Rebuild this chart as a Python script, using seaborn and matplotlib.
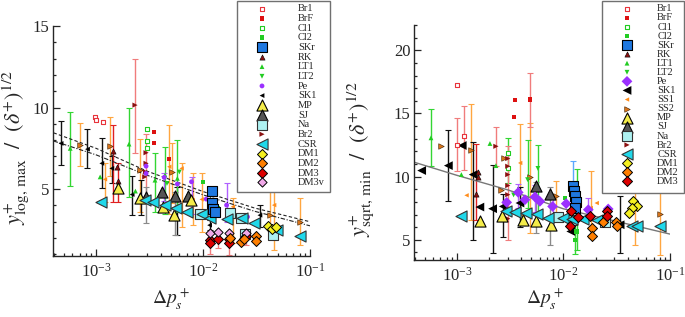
import matplotlib
matplotlib.use("Agg")
import matplotlib.pyplot as plt
from matplotlib.patches import Rectangle
from matplotlib.ticker import LogLocator, MultipleLocator, NullFormatter
import numpy as np
import pandas as pd
import seaborn as sns

NA = np.nan

# ---- left panel: y+_log,max / sqrt(delta+) ----
L_BR1_X = [9.8e-4, 9.9e-4, 1.15e-3]
L_BR1_Y = [9.40, 9.23, 9.09]
L_BRF_X = [3.48e-3, 3.46e-3, 4.81e-3]
L_BRF_Y = [8.50, 7.82, 6.83]
L_CL1_X = [2.98e-3, 3.02e-3, 2.96e-3]
L_CL1_Y = [8.70, 7.98, 7.55]
L_CL2_X = [1.0e-2, 1.38e-2]
L_CL2_Y = [5.45, 3.80]
L_SKR_X = [1.20e-2, 1.20e-2, 1.25e-2, 1.28e-2]
L_SKR_Y = [4.88, 4.14, 3.76, 3.60]
L_RK_X = [1.45e-3, 1.57e-3, 1.59e-3]
L_RK_Y = [7.35, 6.37, 5.49]
L_RK_LO = [4.20, NA, 4.22]
L_RK_HI = [8.95, NA, 6.60]
L_LT1_X = [5.72e-4, 1.09e-3, 2.03e-3, 2.33e-3, 3.55e-3, 4.41e-3, 5.75e-3]
L_LT1_Y = [7.50, 5.75, 7.76, 4.88, 5.55, 5.86, 5.66]
L_LT1_LO = [5.18, NA, 4.53, NA, 3.61, 3.50, 3.60]
L_LT1_HI = [9.70, NA, 10.0, NA, 7.19, 7.60, 8.00]
L_LT2_X = [4.6e-3, 6.0e-3]
L_LT2_Y = [5.35, 6.05]
L_PE_X = [2.93e-3, 2.93e-3, 4.33e-3, 5.75e-3, 7.8e-3, 1.07e-2, 1.66e-2, 2.6e-2]
L_PE_Y = [6.41, 5.96, 5.72, 5.31, 5.45, 4.39, 4.02, 3.30]
L_PE_LO = [NA, NA, 4.30, NA, 3.50, NA, 3.00, NA]
L_PE_HI = [NA, NA, 6.00, NA, 5.76, NA, 5.35, NA]
L_SK1_X = [4.7e-4, 8.3e-4, 1.13e-3, 1.40e-3, 2.17e-3, 2.62e-3, 5.66e-3, 1.15e-2, 3.4e-2]
L_SK1_Y = [7.80, 7.45, 6.58, 6.27, 4.67, 4.33, 4.33, 2.79, 3.40]
L_SK1_LO = [6.47, 6.27, 5.04, 5.35, 3.40, 3.40, 2.18, 2.50, 2.69]
L_SK1_HI = [9.19, 8.66, 8.11, 7.02, 5.82, 5.55, 5.14, 3.10, 4.02]
L_MP_X = [1.61e-3, 2.58e-3, 4.26e-3, 5.40e-3, 7.72e-3]
L_MP_Y = [5.08, 4.43, 3.92, 3.40, 4.33]
L_SJ_X = [2.93e-3, 4.10e-3, 5.47e-3, 7.30e-3]
L_SJ_Y = [4.53, 4.84, 4.57, 4.57]
L_SJ_LO = [2.90, NA, 2.18, NA]
L_SJ_HI = [5.14, NA, 4.84, NA]
L_NA_X = [9.4e-3, 1.79e-2, 2.25e-2, 2.47e-2, 4.5e-2]
L_NA_Y = [3.47, 3.55, 3.22, 2.25, 2.20]
L_BR2_X = [2.31e-3, 2.93e-3, 2.93e-3, 2.90e-3, 2.85e-3]
L_BR2_Y = [10.15, 7.23, 6.58, 6.06, 5.75]
L_BR2_LO = [7.19, NA, NA, 4.60, NA]
L_BR2_HI = [13.0, NA, NA, 8.40, NA]
L_CSR_X = [1.10e-3, 2.87e-3, 3.43e-3, 4.41e-3, 5.55e-3, 7.0e-3, 9.7e-3,
           1.16e-2, 1.66e-2, 2.29e-2, 3.0e-2, 4.9e-2, 8.07e-2]
L_CSR_Y = [4.18, 4.33, 4.22, 4.02, 3.85, 3.61, 3.47, 3.26, 3.14, 3.22, 2.90, 2.48, 2.12]
L_DM1_X = [4.05e-2, 4.41e-2, 4.81e-2]
L_DM1_Y = [2.75, 2.53, 2.65]
L_DM2_X = [1.79e-2, 2.26e-2, 2.40e-2, 3.13e-2, 3.13e-2]
L_DM2_Y = [2.01, 1.77, 1.97, 2.12, 1.83]
L_DM3_X = [1.15e-2, 1.15e-2, 1.37e-2, 1.76e-2, 1.76e-2, 2.52e-2]
L_DM3_Y = [1.87, 1.67, 1.97, 1.97, 1.67, 2.12]
L_DM3_LO = [1.05, NA, 1.42, 0.95, NA, 1.60]
L_DM3_HI = [2.07, NA, 2.28, 2.38, NA, 2.50]
L_DM3V_X = [1.15e-2, 1.37e-2, 1.76e-2, 2.52e-2]
L_DM3V_Y = [2.28, 2.38, 2.28, 2.28]
# extra sets drawn in the left panel but not listed in its legend
L_SS1_X = [1.21e-3, 4.83e-3, 6.3e-3, 8.0e-3, 9.7e-3, 1.9e-2, 4.62e-2]
L_SS1_Y = [5.60, 6.37, 6.27, 4.33, 4.37, 3.92, 4.02]
L_SS1_LO = [4.22, 3.50, 2.69, 2.79, 2.38, 1.67, 1.26]
L_SS1_HI = [6.58, 8.93, 6.58, 5.96, 6.00, 4.43, 4.94]
L_SS2_X = [7.08e-4, 1.35e-3, 2.58e-3, 5.1e-3, 4.25e-2, 8.07e-2]
L_SS2_Y = [7.70, 7.64, 6.17, 6.06, 3.40, 3.00]
L_SS2_LO = [6.41, 5.80, 3.61, 4.12, 2.48, 1.56]
L_SS2_HI = [9.07, 9.40, 8.05, 7.84, 5.14, 4.43]
L_FIT_X = [4e-4, 1e-3, 3e-3, 1e-2, 3e-2, 1e-1]
L_FIT1_Y = [8.45, 7.50, 6.10, 4.85, 3.85, 3.00]
L_FIT2_Y = [7.95, 7.10, 5.85, 4.65, 3.65, 2.75]

# ---- right panel: y+_sqrt,min / sqrt(delta+) ----
R_BR1_X = [1.0e-3, 1.0e-3, 1.16e-3]
R_BR1_Y = [17.25, 12.54, 13.25]
R_BR1_LO = [NA, 10.48, 10.50]
R_BR1_HI = [NA, 14.60, 15.58]
R_BRF_X = [3.50e-3, 3.45e-3, 4.84e-3]
R_BRF_Y = [16.06, 14.71, 16.11]
R_BRF_LO = [NA, NA, 13.94]
R_BRF_HI = [NA, NA, 18.23]
R_CL1_X = [3.04e-3, 3.02e-3]
R_CL1_Y = [11.88, 10.69]
R_CL1_LO = [9.5, NA]
R_CL1_HI = [13.07, NA]
R_CL2_X = [1.03e-2, 1.29e-2, 1.33e-2]
R_CL2_Y = [8.31, 5.00, 5.66]
R_CL2_LO = [NA, 3.90, 4.20]
R_CL2_HI = [NA, 7.00, 10.60]
R_SKR_X = [1.24e-2, 1.26e-2, 1.27e-2, 1.30e-2, 1.27e-2]
R_SKR_Y = [9.29, 8.83, 8.44, 7.96, 7.52]
R_SKR_LO = [6.59, NA, NA, NA, NA]
R_SKR_HI = [11.21, NA, NA, NA, NA]
R_RK_X = [1.56e-3, 1.58e-3, 1.50e-3]
R_RK_Y = [10.34, 10.00, 8.65]
R_RK_LO = [NA, NA, 6.59]
R_RK_HI = [NA, NA, 12.60]
R_LT1_X = [5.7e-4, 1.10e-3, 2.04e-3, 2.32e-3]
R_LT1_Y = [13.07, 10.16, 12.62, 10.87]
R_LT1_LO = [10.82, NA, NA, NA]
R_LT1_HI = [15.32, NA, NA, NA]
R_LT2_X = [3.4e-3, 4.6e-3, 5.75e-3]
R_LT2_Y = [8.55, 9.76, 10.65]
R_LT2_LO = [NA, 7.50, 7.20]
R_LT2_HI = [NA, 12.9, 12.5]
R_PE_X = [2.93e-3, 3.76e-3, 4.35e-3, 5.40e-3, 6.00e-3, 7.90e-3, 1.06e-2, 1.71e-2, 2.63e-2]
R_PE_Y = [7.96, 8.75, 8.17, 8.39, 8.04, 7.64, 7.86, 7.38, 7.44]
R_PE_LO = [NA, 7.5, NA, 7.2, NA, 6.8, NA, 6.7, NA]
R_PE_HI = [NA, 9.4, NA, 9.3, NA, 8.4, NA, 8.3, NA]
R_SK1_X = [4.66e-4, 8.30e-4, 1.12e-3, 1.42e-3, 1.64e-3, 2.16e-3, 2.72e-3, 3.90e-3, 1.17e-2, 3.40e-2]
R_SK1_Y = [10.48, 10.87, 12.46, 10.16, 7.59, 7.46, 7.64, 7.91, 5.66, 6.19]
R_SK1_LO = [NA, 8.10, NA, 5.00, NA, 3.94, 5.20, 6.00, NA, 3.94]
R_SK1_HI = [NA, 13.67, NA, 12.72, NA, 10.95, 8.60, 9.20, NA, 8.44]
R_SS1_X = [1.23e-3, 3.92e-3, 1.80e-2, 2.05e-2, 4.70e-2]
R_SS1_Y = [8.52, 11.08, 7.52, 7.91, 8.00]
R_SS1_LO = [NA, 7.00, 5.13, NA, 4.60]
R_SS1_HI = [NA, 14.13, 10.42, NA, 12.90]
R_SS2_X = [7.03e-4, 1.35e-3, 2.57e-3, 2.78e-3, 4.80e-3, 8.50e-3, 8.0e-2]
R_SS2_Y = [12.40, 12.14, 8.97, 11.48, 9.97, 8.44, 7.06]
R_SS2_LO = [NA, 6.59, NA, NA, 5.53, 6.67, 3.80]
R_SS2_HI = [NA, 15.71, NA, NA, 14.26, 9.64, 12.0]
R_MP_X = [1.64e-3, 2.63e-3, 4.19e-3, 5.47e-3, 7.60e-3]
R_MP_Y = [6.45, 6.85, 6.59, 6.45, 6.19]
R_SJ_X = [5.53e-3, 7.50e-3]
R_SJ_Y = [9.23, 8.65]
R_SJ_LO = [5.50, 4.60]
R_SJ_HI = [9.60, 9.20]
R_NA_X = [8.95e-3, 1.20e-2, 2.45e-2]
R_NA_Y = [6.77, 6.60, 6.38]
R_BR2_X = [2.32e-3, 3.0e-3, 3.0e-3, 3.0e-3, 3.0e-3, 3.0e-3, 3.0e-3, 3.0e-3]
R_BR2_Y = [12.40, 11.43, 10.82, 10.16, 9.29, 8.57, 7.91, 6.67]
R_BR2_LO = [10.82, NA, NA, 5.00, NA, NA, NA, NA]
R_BR2_HI = [13.91, NA, NA, 12.40, NA, NA, NA, NA]
R_CSR_X = [1.10e-3, 2.88e-3, 3.50e-3, 4.45e-3, 5.60e-3, 7.10e-3, 9.90e-3,
           1.20e-2, 1.53e-2, 2.05e-2, 4.40e-2, 4.90e-2, 8.0e-2]
R_CSR_Y = [6.85, 7.25, 7.17, 7.12, 7.04, 6.72, 6.72, 6.64, 6.64, 6.53, 6.06, 6.06, 6.06]
R_DM1_X = [4.50e-2, 4.90e-2, 4.40e-2, 4.15e-2]
R_DM1_Y = [8.10, 7.70, 7.52, 7.12]
R_DM2_X = [1.84e-2, 1.84e-2, 2.37e-2, 3.10e-2, 3.20e-2]
R_DM2_Y = [5.93, 5.27, 6.38, 6.38, 6.11]
R_DM3_X = [1.17e-2, 1.15e-2, 1.38e-2, 1.77e-2, 2.54e-2, 2.54e-2]
R_DM3_Y = [7.25, 6.06, 6.80, 6.85, 7.25, 6.85]
R_FIT_X = [4e-4, 1e-3, 3e-3, 1e-2, 3e-2, 1e-1]
R_FIT_Y = [11.13, 10.10, 8.95, 7.45, 6.50, 5.45]

LEFT_ORDER = ["Br1", "BrF", "Cl1", "Cl2", "SKr", "RK", "LT1", "LT2", "Pe", "SK1",
              "MP", "SJ", "Na", "Br2", "CSR", "DM1", "DM2", "DM3", "DM3v"]
RIGHT_ORDER = ["Br1", "BrF", "Cl1", "Cl2", "SKr", "RK", "LT1", "LT2", "Pe", "SK1",
               "SS1", "SS2", "MP", "SJ", "Na", "Br2", "CSR", "DM1", "DM2", "DM3"]

# marker styles (size s in pt^2)
RED_BAR = "#f07c7c"
STYLE = {
    "Br1": dict(marker="s", s=11, fc="white", ec="#e8333b", lw=0.8, bar=RED_BAR),
    "BrF": dict(marker="s", s=10, fc="#dd1010", ec="none", lw=0, bar=RED_BAR),
    "Cl1": dict(marker="s", s=11, fc="white", ec="#22cc22", lw=0.8, bar="#33d633"),
    "Cl2": dict(marker="s", s=10, fc="#22cc22", ec="none", lw=0, bar="#33d633"),
    "SKr": dict(marker="s", s=48, fc="#1f78e0", ec="black", lw=0.8, bar="#5aa8ff"),
    "RK": dict(marker="^", s=14, fc="#8b1010", ec="black", lw=0.4, bar="#e02020"),
    "LT1": dict(marker="^", s=12, fc="#22cc22", ec="none", lw=0, bar="#33d633"),
    "LT2": dict(marker="v", s=12, fc="#22cc22", ec="none", lw=0, bar="#33d633"),
    "Pe": dict(marker="o", s=12, fc="#9b30ff", ec="none", lw=0, bar="#b060ff"),
    "Pe_big": dict(marker="D", s=30, fc="#9b30ff", ec="none", lw=0, bar="#b060ff"),
    "SK1": dict(marker="<", s=12, fc="black", ec="none", lw=0, bar="#111111"),
    "SK1_big": dict(marker="<", s=40, fc="black", ec="none", lw=0, bar="#111111"),
    "SS1": dict(marker="<", s=10, fc="#ff8c1a", ec="none", lw=0, bar="#ffa640"),
    "SS2": dict(marker=">", s=16, fc="#d9741a", ec="#402000", lw=0.4, bar="#ffa640"),
    "MP": dict(marker="^", s=64, fc="#f4ec4a", ec="black", lw=0.8, bar="#888888"),
    "SJ": dict(marker="^", s=64, fc="#555555", ec="black", lw=0.8, bar="#8a8a8a"),
    "Na": dict(marker="s", s=56, fc="#aef2f2", ec="#333333", lw=0.8, bar="#888888"),
    "Br2": dict(marker=">", s=14, fc="#8b1010", ec="none", lw=0, bar=RED_BAR),
    "CSR": dict(marker="<", s=64, fc="#20d8ea", ec="#333333", lw=0.8, bar="#888888"),
    "DM1": dict(marker="D", s=26, fc="#f5f020", ec="black", lw=0.7, bar="#ffa640"),
    "DM2": dict(marker="D", s=26, fc="#ff7f00", ec="black", lw=0.7, bar="#ffa640"),
    "DM3": dict(marker="D", s=26, fc="#dd0000", ec="black", lw=0.7, bar=RED_BAR),
    "DM3v": dict(marker="D", s=22, fc="#f0a8e8", ec="black", lw=0.7, bar=RED_BAR),
}


def draw(ax, label, xs, ys, lo=None, hi=None, style=None, show=True):
    st = STYLE[style or label]
    df = pd.DataFrame({"x": xs, "y": ys})
    if lo is not None:
        df["lo"] = lo
        df["hi"] = hi
        bars = df.dropna()
        if len(bars):
            ax.errorbar(bars["x"], bars["y"],
                        yerr=[bars["y"] - bars["lo"], bars["hi"] - bars["y"]],
                        fmt="none", ecolor=st["bar"], elinewidth=1.0,
                        capsize=2.2, capthick=0.8, zorder=2)
    sns.scatterplot(data=df, x="x", y="y", ax=ax, marker=st["marker"], s=st["s"],
                    color=st["fc"], edgecolor=st["ec"], linewidth=st["lw"],
                    label=label if show else "_nolegend_", zorder=3, legend=False)


def style_axes(ax, ylim, ymajor):
    ax.set_xscale("log")
    ax.set_xlim(3.95e-4, 1e-1)
    ax.set_ylim(*ylim)
    ax.xaxis.set_major_locator(LogLocator(base=10, numticks=10))
    ax.xaxis.set_minor_locator(LogLocator(base=10, subs=np.arange(2, 10), numticks=20))
    ax.xaxis.set_minor_formatter(NullFormatter())
    ax.yaxis.set_major_locator(MultipleLocator(ymajor))
    ax.yaxis.set_minor_locator(MultipleLocator(1))
    for side in ("top", "right"):
        ax.spines[side].set_visible(False)
    for side in ("left", "bottom"):
        ax.spines[side].set_linewidth(1.0)
    ax.tick_params(which="both", direction="in", top=False, right=False, width=0.9)
    ax.tick_params(which="major", length=5, labelsize=12)
    ax.tick_params(which="minor", length=2.5)
    ax.tick_params(axis="y", pad=2.5)
    ax.tick_params(axis="x", pad=5)
    ax.grid(False)


def add_legend(fig, ax, order, box_px, fs, hl, htp, lsp):
    # box_px = (left, top, right, bottom) in image pixels
    W, H = 685.0, 317.0
    left, top, right, bottom = box_px
    fig.patches.append(Rectangle((left / W, 1 - bottom / H), (right - left) / W,
                                 (bottom - top) / H, transform=fig.transFigure,
                                 facecolor="white", edgecolor="#707070",
                                 linewidth=1.0, zorder=2))
    handles, labels = ax.get_legend_handles_labels()
    lookup = dict(zip(labels, handles))
    leg = fig.legend([lookup[k] for k in order], order, loc="upper left",
                     bbox_to_anchor=(left / W, 1 - top / H), fontsize=fs,
                     handlelength=hl, handletextpad=htp, labelspacing=lsp,
                     borderpad=0.3, borderaxespad=0.0, scatterpoints=1,
                     frameon=False)
    leg.set_zorder(5)
    return leg


sns.set_theme(style="ticks")
plt.rcParams["font.family"] = ["Liberation Serif", "DejaVu Serif"]
plt.rcParams["mathtext.fontset"] = "stix"

fig = plt.figure(figsize=(6.85, 3.17), dpi=100)
ax1 = fig.add_axes([53 / 685, 61 / 317, 257 / 685, 230 / 317])
ax2 = fig.add_axes([414 / 685, 57 / 317, 256 / 685, 235 / 317])

# left panel
sns.lineplot(x=L_FIT_X, y=L_FIT1_Y, ax=ax1, color="#222222", lw=0.8,
             linestyle=(0, (3, 2)), zorder=2.5)
sns.lineplot(x=L_FIT_X, y=L_FIT2_Y, ax=ax1, color="#222222", lw=0.8,
             linestyle=(0, (4, 1.5, 1, 1.5)), zorder=2.5)
draw(ax1, "SS1", L_SS1_X, L_SS1_Y, L_SS1_LO, L_SS1_HI, show=False)
draw(ax1, "SS2", L_SS2_X, L_SS2_Y, L_SS2_LO, L_SS2_HI, show=False)
draw(ax1, "SK1", L_SK1_X, L_SK1_Y, L_SK1_LO, L_SK1_HI)
draw(ax1, "LT1", L_LT1_X, L_LT1_Y, L_LT1_LO, L_LT1_HI)
draw(ax1, "LT2", L_LT2_X, L_LT2_Y)
draw(ax1, "Br1", L_BR1_X, L_BR1_Y)
draw(ax1, "BrF", L_BRF_X, L_BRF_Y)
draw(ax1, "Cl1", L_CL1_X, L_CL1_Y)
draw(ax1, "Cl2", L_CL2_X, L_CL2_Y)
draw(ax1, "RK", L_RK_X, L_RK_Y, L_RK_LO, L_RK_HI)
draw(ax1, "Br2", L_BR2_X, L_BR2_Y, L_BR2_LO, L_BR2_HI)
draw(ax1, "Pe", L_PE_X, L_PE_Y, L_PE_LO, L_PE_HI)
draw(ax1, "SJ", L_SJ_X, L_SJ_Y, L_SJ_LO, L_SJ_HI)
draw(ax1, "MP", L_MP_X, L_MP_Y)
draw(ax1, "Na", L_NA_X, L_NA_Y)
draw(ax1, "CSR", L_CSR_X, L_CSR_Y)
draw(ax1, "SKr", L_SKR_X, L_SKR_Y)
draw(ax1, "DM3", L_DM3_X, L_DM3_Y, L_DM3_LO, L_DM3_HI)
draw(ax1, "DM3v", L_DM3V_X, L_DM3V_Y)
draw(ax1, "DM2", L_DM2_X, L_DM2_Y)
draw(ax1, "DM1", L_DM1_X, L_DM1_Y)
style_axes(ax1, (0.9, 15), 5)
ax1.set_xlabel(r"$\Delta p_s^+$", fontsize=14)
ax1.set_ylabel(r"$y^{+}_{\mathrm{log,\,max}}\ \ /\ \ (\delta^{+})^{1/2}$", fontsize=16)
ax1.xaxis.set_label_coords(0.46, -0.13)
ax1.yaxis.set_label_coords(-0.085, 0.47)
add_legend(fig, ax1, LEFT_ORDER, (237, 1, 330, 192), 7.5, 4.2, 1.35, 0.035)

# right panel
sns.lineplot(x=R_FIT_X, y=R_FIT_Y, ax=ax2, color="#777777", lw=1.0, zorder=2.5)
draw(ax2, "SS1", R_SS1_X, R_SS1_Y, R_SS1_LO, R_SS1_HI)
draw(ax2, "SS2", R_SS2_X, R_SS2_Y, R_SS2_LO, R_SS2_HI)
draw(ax2, "SK1", R_SK1_X, R_SK1_Y, R_SK1_LO, R_SK1_HI, style="SK1_big")
draw(ax2, "LT1", R_LT1_X, R_LT1_Y, R_LT1_LO, R_LT1_HI)
draw(ax2, "LT2", R_LT2_X, R_LT2_Y, R_LT2_LO, R_LT2_HI)
draw(ax2, "Br1", R_BR1_X, R_BR1_Y, R_BR1_LO, R_BR1_HI)
draw(ax2, "BrF", R_BRF_X, R_BRF_Y, R_BRF_LO, R_BRF_HI)
draw(ax2, "Cl1", R_CL1_X, R_CL1_Y, R_CL1_LO, R_CL1_HI)
draw(ax2, "Cl2", R_CL2_X, R_CL2_Y, R_CL2_LO, R_CL2_HI)
draw(ax2, "RK", R_RK_X, R_RK_Y, R_RK_LO, R_RK_HI)
draw(ax2, "Br2", R_BR2_X, R_BR2_Y, R_BR2_LO, R_BR2_HI)
draw(ax2, "SJ", R_SJ_X, R_SJ_Y, R_SJ_LO, R_SJ_HI)
draw(ax2, "Pe", R_PE_X, R_PE_Y, R_PE_LO, R_PE_HI, style="Pe_big")
draw(ax2, "MP", R_MP_X, R_MP_Y)
draw(ax2, "Na", R_NA_X, R_NA_Y)
draw(ax2, "CSR", R_CSR_X, R_CSR_Y)
draw(ax2, "SKr", R_SKR_X, R_SKR_Y, R_SKR_LO, R_SKR_HI)
draw(ax2, "DM2", R_DM2_X, R_DM2_Y)
draw(ax2, "DM3", R_DM3_X, R_DM3_Y)
draw(ax2, "DM1", R_DM1_X, R_DM1_Y)
style_axes(ax2, (3.4, 22), 5)
ax2.set_xlabel(r"$\Delta p_s^+$", fontsize=14)
ax2.set_ylabel(r"$y^{+}_{\mathrm{sqrt,\,min}}\ \ /\ \ (\delta^{+})^{1/2}$", fontsize=16)
ax2.xaxis.set_label_coords(0.51, -0.11)
ax2.yaxis.set_label_coords(-0.15, 0.43)
add_legend(fig, ax2, RIGHT_ORDER, (602, 1, 684, 193), 7.5, 4.2, 0.8, -0.02)

fig.savefig("out.png", dpi=100)
